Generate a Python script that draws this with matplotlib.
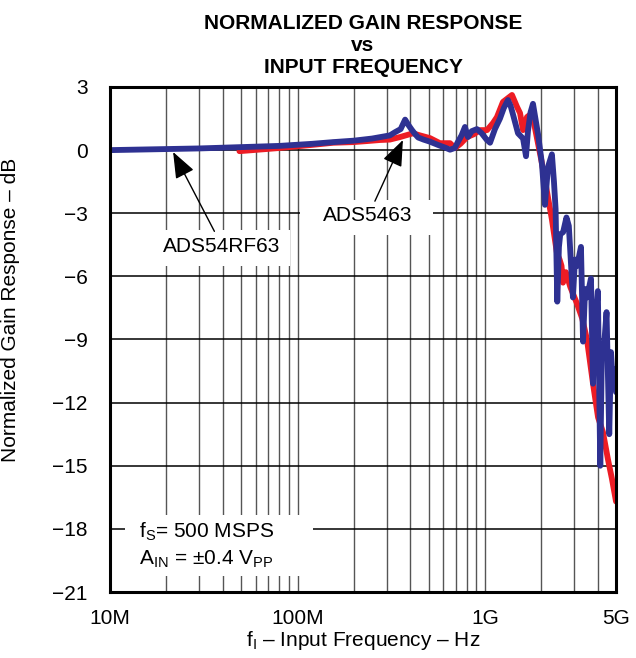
import matplotlib
matplotlib.use("Agg")
import matplotlib.pyplot as plt
from matplotlib.patches import Rectangle
from matplotlib.ticker import FixedLocator, LogLocator, NullFormatter

plt.rcParams["font.family"] = ["Liberation Sans", "DejaVu Sans"]
plt.rcParams["mathtext.fontset"] = "custom"
plt.rcParams["mathtext.rm"] = "Liberation Sans"

# ADS54RF63 (blue) - frequency in MHz, gain in dB
rf63_mhz = [10, 20, 30, 49, 80, 120, 155, 200, 250, 311, 331, 355, 375, 390,
            408, 425, 440, 470, 509, 560, 620, 651, 690, 718, 750, 782, 811,
            850, 906, 960, 1020, 1064, 1130, 1202, 1260, 1326, 1370, 1410,
            1500, 1596, 1655, 1695, 1750, 1803, 1850, 1918, 2014, 2089, 2168,
            2275, 2333, 2380, 2430, 2480, 2520, 2610, 2720, 2800, 2945, 3020,
            3100, 3250, 3335, 3420, 3500, 3675, 3768, 3850, 3900, 4000, 4120,
            4200, 4300, 4450, 4600, 4700, 4800, 4950, 5000]
rf63_db = [0.0, 0.05, 0.08, 0.14, 0.2, 0.3, 0.38, 0.45, 0.55, 0.7, 0.85, 1.0,
           1.45, 1.2, 0.95, 0.75, 0.6, 0.5, 0.4, 0.25, 0.1, 0.02, 0.1, 0.4,
           0.7, 1.1, 0.62, 0.9, 1.0, 0.8, 0.5, 0.35, 1.0, 1.5, 2.0, 2.38, 2.1,
           1.7, 0.8, 0.55, -0.29, 0.9, 1.8, 2.2, 1.6, 0.76, -0.67, -2.6, -0.8,
           -0.2, -1.5, -2.8, -7.2, -4.6, -4.0, -3.9, -3.2, -3.6, -7.0, -5.2,
           -5.5, -4.6, -9.1, -6.6, -7.0, -6.1, -11.1, -7.4, -8.0, -6.7, -15.0,
           -9.8, -9.5, -7.7, -13.5, -9.6, -11.0, -10.4, -11.5]

# ADS5463 (red)
ads5463_mhz = [49, 80, 120, 155, 198, 235, 275, 311, 352, 413, 450, 509, 575,
               651, 692, 740, 802, 870, 940, 1025, 1104, 1158, 1247, 1393,
               1483, 1538, 1596, 1675, 1782, 1893, 2000, 2089, 2275, 2420,
               2500, 2560, 2606, 2700, 2850, 3097, 3300, 3499, 3768, 4009,
               4258, 4529, 4750, 5000]
ads5463_db = [-0.05, 0.1, 0.25, 0.35, 0.38, 0.43, 0.48, 0.5, 0.62, 0.8, 0.7,
              0.57, 0.33, 0.33, 0.1, 0.3, 0.62, 0.75, 0.95, 0.95, 1.29, 1.57,
              2.29, 2.62, 2.05, 1.76, 0.95, 1.57, 1.76, 0.57, -0.5, -1.43,
              -3.3, -4.9, -5.2, -5.5, -6.3, -5.8, -6.5, -7.3, -8.0, -9.0,
              -11.1, -12.7, -13.4, -14.7, -15.6, -16.7]

x_ticks = [1e7, 1e8, 1e9, 5e9]
x_labels = ["10M", "100M", "1G", "5G"]
y_ticks = list(range(-21, 4, 3))
y_labels = [str(v).replace("-", "\u2212") for v in y_ticks]

BLUE = "#2e3192"
RED = "#ed1c24"
FS = 15

fig = plt.figure(figsize=(6.36, 6.58), dpi=100)
ax = fig.add_axes([0.173, 0.1003, 0.7956, 0.7675])

ax.plot([f * 1e6 for f in ads5463_mhz], ads5463_db, color=RED, lw=4.2,
        solid_joinstyle="round", solid_capstyle="round", zorder=3)
ax.plot([f * 1e6 for f in rf63_mhz], rf63_db, color=BLUE, lw=4.2,
        solid_joinstyle="round", solid_capstyle="round", zorder=4)

ax.set_xscale("log")
ax.set_xlim(1e7, 5e9)
ax.set_ylim(-21, 3)
ax.xaxis.set_major_locator(FixedLocator(x_ticks))
ax.set_xticklabels(x_labels)
ax.xaxis.set_minor_locator(LogLocator(base=10, subs=range(2, 10)))
ax.xaxis.set_minor_formatter(NullFormatter())
ax.set_yticks(y_ticks)
ax.set_yticklabels(y_labels)
ax.tick_params(which="both", length=0, labelsize=FS)
ax.tick_params(axis="y", pad=16)
ax.tick_params(axis="x", pad=12)

ax.set_axisbelow(True)
ax.grid(which="both", axis="x", color="#555555", lw=1.0)
ax.grid(which="major", axis="y", color="black", lw=1.1)
for sp in ax.spines.values():
    sp.set_linewidth(2.2)
    sp.set_zorder(6)

# white boxes behind the labels hide the grid
for (x0, y0, x1, y1) in [(0.375, 0.707, 0.638, 0.776),
                         (0.099, 0.646, 0.356, 0.717),
                         (0.030, 0.032, 0.401, 0.152)]:
    ax.add_patch(Rectangle((x0, y0), x1 - x0, y1 - y0, transform=ax.transAxes,
                           facecolor="white", edgecolor="none", zorder=1.5))

arrow = dict(arrowstyle="-|>,head_length=0.9,head_width=0.35", color="black",
             lw=1.0, shrinkA=2, shrinkB=0, mutation_scale=18)
ax.annotate("ADS54RF63", xy=(21.7e6, -0.09), xytext=(39.6e6, -4.56),
            ha="center", va="center", fontsize=FS, arrowprops=arrow, zorder=7)
ax.annotate("ADS5463", xy=(365e6, 0.48), xytext=(238e6, -3.13),
            ha="center", va="center", fontsize=FS, arrowprops=arrow, zorder=7)

ax.text(0.057, 0.108, r"f$_\mathregular{S}$= 500 MSPS", transform=ax.transAxes,
        fontsize=FS, ha="left", va="baseline", zorder=7)
ax.text(0.057, 0.055, r"A$_\mathregular{IN}$ = $\pm$0.4 V$_\mathregular{PP}$",
        transform=ax.transAxes, fontsize=FS, ha="left", va="baseline", zorder=7)

ax.set_xlabel("f$_\\mathregular{I}$ \u2013 Input Frequency \u2013 Hz",
              fontsize=FS, labelpad=1)
ax.set_ylabel("Normalized Gain Response \u2013 dB", fontsize=FS)
ax.yaxis.set_label_coords(-0.178, 0.558)

ax.set_title("NORMALIZED GAIN RESPONSE\nvs\nINPUT FREQUENCY", fontsize=15,
             fontweight="bold", linespacing=1.2, pad=10)

fig.savefig("out.png", dpi=100)
